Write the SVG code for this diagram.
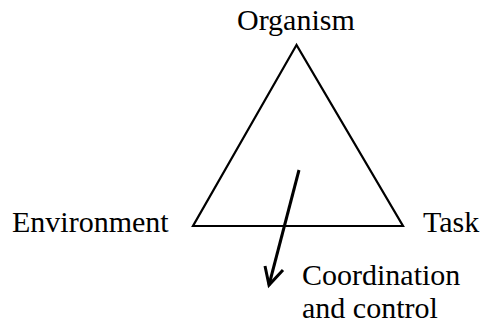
<svg xmlns="http://www.w3.org/2000/svg" width="483" height="326" viewBox="0 0 483 326">
<rect width="483" height="326" fill="#fff"/>
<g id="triangle"><polygon points="296.5,45 193,226 403,226" fill="none" stroke="#000" stroke-width="2.2"/></g>
<g id="organism"><text x="237" y="30" font-size="30" font-family="Times New Roman">Organism</text></g>
<g id="environment"><text x="12" y="232" font-size="30" font-family="Times New Roman">Environment</text></g>
<g id="task"><text x="423" y="232" font-size="30" font-family="Times New Roman">Task</text></g>
<g id="coordination"><text x="302" y="285" font-size="30" font-family="Times New Roman">Coordination</text><text x="302" y="318" font-size="30" font-family="Times New Roman">and control</text></g>
<g id="connectors" fill="none" stroke="#000" stroke-width="3">
<line x1="299" y1="170" x2="269" y2="285"/>
<polyline points="265,266 269,285 283,270"/>
</g>
</svg>
